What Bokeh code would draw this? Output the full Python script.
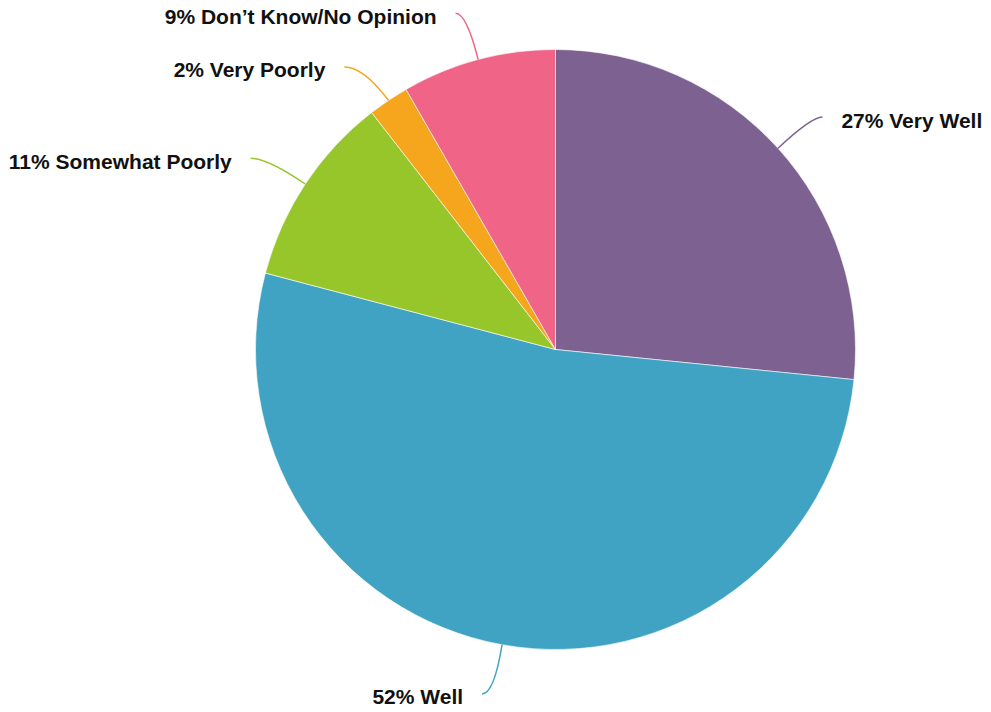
import math
from bokeh.plotting import figure
from bokeh.models import Range1d
from bokeh.core.properties import value
from bokeh.embed import file_html
from bokeh.resources import INLINE

categories = ["Very Well", "Well", "Somewhat Poorly", "Very Poorly", "Don\u2019t Know/No Opinion"]
shares = [26.6, 52.5, 10.4, 2.2, 8.3]
label_pcts = ["27%", "52%", "11%", "2%", "9%"]
colors = ["#7c6191", "#41a3c3", "#97c62a", "#f5a61d", "#ef6487"]

# label nudges (screen px: dx outward, dy downward)
nudge_dx = [0, 1, 6, 8, 0]
nudge_dy = [-1, 5, -1, 4, -3]

W, H = 991, 712
p = figure(width=W, height=H, output_backend="svg", toolbar_location=None,
           x_range=Range1d(0, W), y_range=Range1d(0, H), min_border=0)
p.axis.visible = False
p.grid.visible = False
p.outline_line_color = None

cx, cy, R = 555, 363, 300
total = sum(shares)
cum = [0.0]
for s in shares:
    cum.append(cum[-1] + s / total)

starts = [math.pi / 2 - 2 * math.pi * cum[i] for i in range(len(shares))]
ends = [math.pi / 2 - 2 * math.pi * cum[i + 1] for i in range(len(shares))]
p.wedge(x=cx, y=cy, radius=R, start_angle=starts, end_angle=ends, direction="clock",
        fill_color=colors, line_color="white", line_width=0.6)

r_end, hook, gap = 345, 11, 19
for i, cat in enumerate(categories):
    mid = math.pi / 2 - 2 * math.pi * (cum[i] + cum[i + 1]) / 2
    c, s = math.cos(mid), math.sin(mid)
    side = 1 if c >= 0 else -1
    x0, y0 = cx + R * c, cy + R * s
    xc, yc = cx + r_end * c, cy + r_end * s - nudge_dy[i]
    x1, y1 = xc + side * (hook + nudge_dx[i]), yc
    p.quadratic(x0=[x0], y0=[y0], x1=[x1], y1=[y1], cx=[xc], cy=[yc],
                line_color=colors[i], line_width=1.5)
    p.text(x=[x1 + side * gap], y=[y1 - 3], text=[f"{label_pcts[i]} {cat}"],
           text_align="left" if side > 0 else "right", text_baseline="middle",
           text_font=value("Liberation Sans"), text_font_style="bold",
           text_font_size="21px", text_color="#111111")

open("out.html", "w").write(file_html(p, INLINE))
